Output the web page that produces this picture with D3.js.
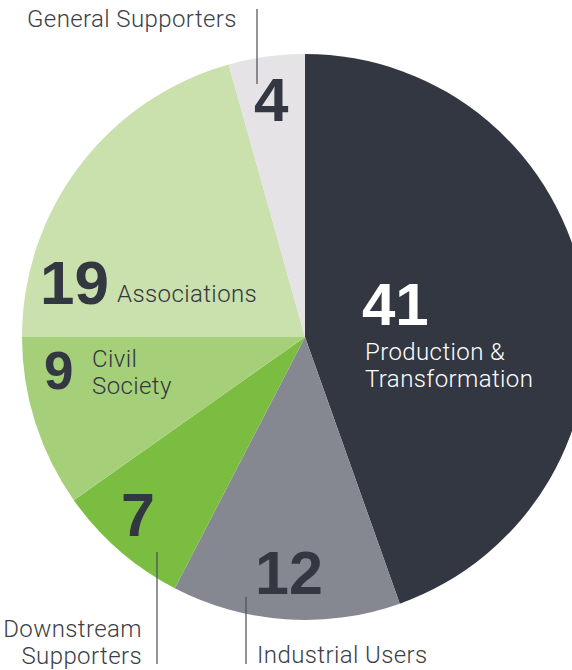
<!DOCTYPE html>
<html>
<head>
<meta charset="utf-8">
<script src="https://cdn.jsdelivr.net/npm/d3@7"></script>
<style>
  html, body { margin: 0; padding: 0; background: #fff; }
  svg { display: block; overflow: hidden; }
  .num { font-family: "Liberation Sans", Arial, sans-serif; font-weight: bold; }
  .lbl { font-family: Roboto, "Liberation Sans", sans-serif; font-weight: 300; letter-spacing: 0.4px; }
</style>
</head>
<body>
<svg id="chart" width="572" height="670"></svg>
<script>
// members by group, clockwise from 12 o'clock
var groups = ["Production & Transformation", "Industrial Users", "Downstream Supporters", "Civil Society", "Associations", "General Supporters"];
var counts = [41, 12, 7, 9, 19, 4];
var colors = ["#333741", "#858891", "#7bbd41", "#a6cf79", "#cae0ad", "#e5e3e5"];

// where each label sits (number + caption lines)
var labelLayout = [
  {nx: 362, ny: 325, size: 60, fill: "#fff", lines: ["Production &", "Transformation"], lx: 365, ly: 360, lfill: "#fff", anchor: "start"},
  {nx: 255, ny: 594, size: 61, fill: "#333741", lines: ["Industrial Users"], lx: 257, ly: 663, lfill: "#3b3e46", anchor: "start", leader: [246, 597, 664]},
  {nx: 121, ny: 536, size: 61, fill: "#333741", lines: ["Downstream", "Supporters"], lx: 142, ly: 637, lfill: "#3b3e46", anchor: "end", leader: [157, 552, 664]},
  {nx: 44, ny: 389, size: 53, fill: "#333741", lines: ["Civil", "Society"], lx: 92, ly: 367, lfill: "#333741", anchor: "start"},
  {nx: 40, ny: 304, size: 62, fill: "#333741", lines: ["Associations"], lx: 117, ly: 302, lfill: "#333741", anchor: "start"},
  {nx: 254, ny: 121, size: 62, fill: "#333741", lines: ["General Supporters"], lx: 27, ly: 27, lfill: "#3b3e46", anchor: "start", leader: [257, 9, 84]}
];

var cx = 305, cy = 337, radius = 283;

var svg = d3.select("#chart");

var pie = d3.pie()
  .value(function(d){ return d; })
  .sort(null);

var arc = d3.arc()
  .innerRadius(0)
  .outerRadius(radius);

var g = svg.append("g")
  .attr("transform", "translate(" + cx + "," + cy + ")");

g.selectAll("path")
  .data(pie(counts))
  .enter().append("path")
    .attr("fill", function(d, i){ return colors[i]; })
    .attr("d", arc);

// leader lines
labelLayout.forEach(function(l){
  if(!l.leader) return;
  svg.append("line")
    .attr("x1", l.leader[0]).attr("x2", l.leader[0])
    .attr("y1", l.leader[1]).attr("y2", l.leader[2])
    .attr("stroke", "#4a4d55")
    .attr("stroke-width", 1.2);
});

// big numbers
svg.selectAll("text.num")
  .data(counts)
  .enter().append("text")
    .attr("class", "num")
    .attr("x", function(d, i){ return labelLayout[i].nx; })
    .attr("y", function(d, i){ return labelLayout[i].ny; })
    .attr("font-size", function(d, i){ return labelLayout[i].size; })
    .attr("fill", function(d, i){ return labelLayout[i].fill; })
    .text(function(d){ return d; });

// captions
groups.forEach(function(name, i){
  var l = labelLayout[i];
  var t = svg.append("text")
    .attr("class", "lbl")
    .attr("font-size", 24)
    .attr("fill", l.lfill)
    .attr("text-anchor", l.anchor);
  l.lines.forEach(function(line, j){
    t.append("tspan")
      .attr("x", l.lx)
      .attr("y", l.ly + j * 26.5)
      .text(line);
  });
});
</script>
</body>
</html>
